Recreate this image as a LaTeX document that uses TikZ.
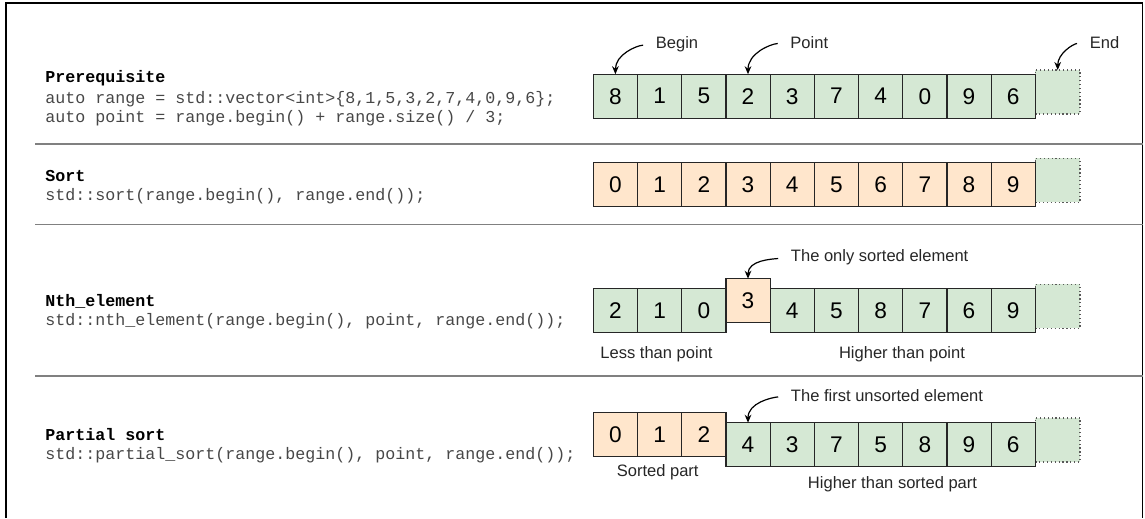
\documentclass[tikz,border=0pt]{standalone}
\usepackage{fontspec}
\setmainfont{Liberation Sans}
\setmonofont{Liberation Mono}
\usetikzlibrary{arrows.meta,positioning}
\definecolor{cellgreen}{HTML}{D5E8D4}
\definecolor{cellorange}{HTML}{FFE6CC}

\begin{document}
\begin{tikzpicture}[x=0.75pt, y=0.75pt, node distance=0pt,
    cell/.style={draw=black!85, line width=0.9pt, outer sep=0pt, inner sep=0pt, minimum width=33.15pt, minimum height=33pt, font=\fontsize{17}{17}\selectfont},
    cellg/.style={cell, fill=cellgreen},
    cello/.style={cell, fill=cellorange},
    endcell/.style={cellg, draw=black!65, dotted, minimum width=33.5pt},
    head/.style={anchor=base west, inner sep=0pt, font=\fontsize{12.5}{15}\ttfamily\bfseries},
    code/.style={anchor=base west, inner sep=0pt, text=black!72, font=\fontsize{12.5}{15}\ttfamily},
    note/.style={anchor=base, inner sep=0pt, text=black!85, font=\fontsize{12.4}{15}\selectfont},
    pointer/.style={-{Stealth[length=6pt,width=5pt]}, line width=0.9pt, shorten <=9.4pt},
    rule/.style={draw=black!50, line width=1.2pt}]
    \useasboundingbox (0,0) rectangle (1145,-518);
    % frame and separators
    \draw[line width=2pt] (6,-518) -- (6,-3.3);
    \draw[line width=1.5pt] (5,-3.3) -- (1142.7,-3.3);
    \draw[line width=1pt] (1142.7,-3.3) -- (1142.7,-518);
    \draw[rule] (35,-144) -- (1142.7,-144);
    \draw[rule] (35,-224.3) -- (1142.7,-224.3);
    \draw[rule] (35,-375.7) -- (1142.7,-375.7);

    % code
    \node (h1) [head] at (45,-82.7) {Prerequisite};
    \node (c1a) [code] at (45,-103.3) {auto range = std::vector<int>\{8,1,5,3,2,7,4,0,9,6\};};
    \node (c1b) [code] at (45,-122.7) {auto point = range.begin() + range.size() / 3;};
    \node (h2) [head] at (45,-181.7) {Sort};
    \node (c2) [code] at (45,-200.7) {std::sort(range.begin(), range.end());};
    \node (h3) [head] at (45,-306.7) {Nth\_element};
    \node (c3) [code] at (45,-325.7) {std::nth\_element(range.begin(), point, range.end());};
    \node (h4) [head] at (45,-440) {Partial sort};
    \node (c4) [code] at (45,-459.3) {std::partial\_sort(range.begin(), point, range.end());};

    % end cells
    \node (aend) [endcell] at (1057.7,-92) {};
    \node (bend) [endcell] at (1057.7,-180.3) {};
    \node (dend) [endcell] at (1057.7,-306.3) {};
    \node (eend) [endcell] at (1057.7,-440) {};

    % prerequisite
    \node (a1) [cellg] at (615.4,-96.2) {8};
    \node (a2) [cellg, right=of a1] {1};
    \node (a3) [cellg, right=of a2] {5};
    \node (a4) [cellg, right=of a3] {2};
    \node (a5) [cellg, right=of a4] {3};
    \node (a6) [cellg, right=of a5] {7};
    \node (a7) [cellg, right=of a6] {4};
    \node (a8) [cellg, right=of a7] {0};
    \node (a9) [cellg, right=of a8] {9};
    \node (a10) [cellg, right=of a9] {6};
    \node (lbegin) [note] at (677,-48.3) {Begin};
    \node (lpoint) [note] at (809.3,-48.3) {Point};
    \node (lend) [note] at (1104.5,-48.3) {End};
    \draw[pointer] (lbegin.west) to[out=185,in=90] (a1.north);
    \draw[pointer] (lpoint.west) to[out=185,in=90] (a4.north);
    \draw[pointer] (lend.west) to[out=185,in=90] (aend.north);

    % sort
    \node (b1) [cello] at (615.4,-184.7) {0};
    \node (b2) [cello, right=of b1] {1};
    \node (b3) [cello, right=of b2] {2};
    \node (b4) [cello, right=of b3] {3};
    \node (b5) [cello, right=of b4] {4};
    \node (b6) [cello, right=of b5] {5};
    \node (b7) [cello, right=of b6] {6};
    \node (b8) [cello, right=of b7] {7};
    \node (b9) [cello, right=of b8] {8};
    \node (b10) [cello, right=of b9] {9};

    % nth_element
    \node (d1) [cellg] at (615.4,-310.7) {2};
    \node (d2) [cellg, right=of d1] {1};
    \node (d3) [cellg, right=of d2] {0};
    \node (d4) [cello, right=of d3, yshift=7.5pt] {3};
    \node (d5) [cellg, right=of d4, yshift=-7.5pt] {4};
    \node (d6) [cellg, right=of d5] {5};
    \node (d7) [cellg, right=of d6] {8};
    \node (d8) [cellg, right=of d7] {7};
    \node (d9) [cellg, right=of d8] {6};
    \node (d10) [cellg, right=of d9] {9};
    \node (lonly) [note, anchor=base west] at (790.7,-261.7) {The only sorted element};
    \node (lless) [note] at (656.5,-358.3) {Less than point};
    \node (lhigh) [note] at (902,-358.3) {Higher than point};
    \draw[pointer] (lonly.west) to[out=185,in=90] (d4.north);

    % partial sort
    \node (e1) [cello] at (615.4,-434.5) {0};
    \node (e2) [cello, right=of e1] {1};
    \node (e3) [cello, right=of e2] {2};
    \node (e4) [cellg, right=of e3, yshift=-7.65pt] {4};
    \node (e5) [cellg, right=of e4] {3};
    \node (e6) [cellg, right=of e5] {7};
    \node (e7) [cellg, right=of e6] {5};
    \node (e8) [cellg, right=of e7] {8};
    \node (e9) [cellg, right=of e8] {9};
    \node (e10) [cellg, right=of e9] {6};
    \node (lfirst) [note, anchor=base west] at (790.7,-401.7) {The first unsorted element};
    \node (lsorted) [note] at (657.7,-476) {Sorted part};
    \node (lhigher) [note] at (892.5,-488.3) {Higher than sorted part};
    \draw[pointer] (lfirst.west) to[out=185,in=90] (e4.north);
\end{tikzpicture}
\end{document}
